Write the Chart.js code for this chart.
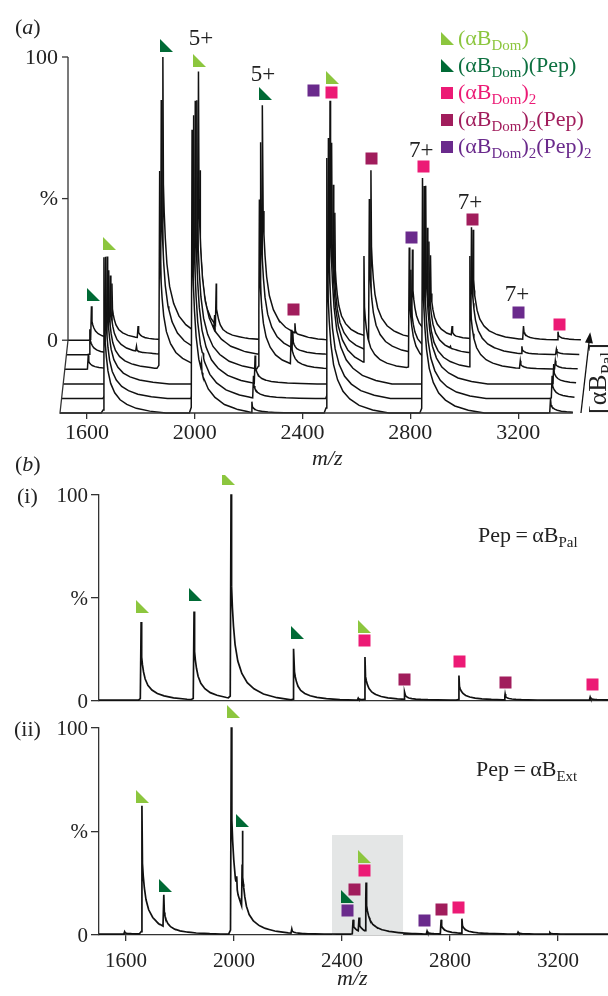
<!DOCTYPE html>
<html>
<head>
<meta charset="utf-8">
<script src="https://cdn.jsdelivr.net/npm/chart.js@4.4.1/dist/chart.umd.min.js"></script>
<style>
html, body { margin: 0; padding: 0; background: #fff; }
body { width: 608px; height: 996px; position: relative; overflow: hidden; font-family: "Liberation Serif", "DejaVu Serif", serif; color: #222; }
canvas { position: absolute; left: 0; }
.t { position: absolute; white-space: nowrap; line-height: 1; font-size: 22px; }
.t sub { font-size: 0.68em; vertical-align: -0.36em; line-height: 0; }
.mk { position: absolute; width: 12px; height: 12px; }
.tri { width: 13px; height: 13px; clip-path: polygon(0 0, 0 100%, 100% 100%); }
</style>
</head>
<body>
<canvas id="chartA" width="608" height="450" style="top:0"></canvas>
<canvas id="chartB1" width="608" height="235" style="top:475px"></canvas>
<canvas id="chartB2" width="608" height="270" style="top:705px"></canvas>

<div class="t" style="left:15px;top:16px">(<i>a</i>)</div>
<div class="t" style="left:15px;top:453px">(<i>b</i>)</div>
<div class="t" style="left:17px;top:485px">(i)</div>
<div class="t" style="left:14px;top:718px">(ii)</div>
<div class="t" style="left:312px;top:447px"><i>m/z</i></div>
<div class="t" style="left:337px;top:967px"><i>m/z</i></div>
<div class="t" style="left:478px;top:524px">Pep&#8201;=&#8201;αB<sub>Pal</sub></div>
<div class="t" style="left:476px;top:758px">Pep&#8201;=&#8201;αB<sub>Ext</sub></div>
<div class="t" style="left:585px;top:414px;font-size:26px;transform:rotate(-90deg);transform-origin:0 0">[αB<sub>Pal</sub>]</div>

<!-- legend -->
<div class="mk tri" style="left:441px;top:32px;background:#8cc63e"></div>
<div class="t" style="left:458px;top:27px;color:#8cc63e">(αB<sub>Dom</sub>)</div>
<div class="mk tri" style="left:441px;top:59px;background:#006a35"></div>
<div class="t" style="left:458px;top:54px;color:#0d7040">(αB<sub>Dom</sub>)(Pep)</div>
<div class="mk" style="left:441px;top:87px;background:#ec1a75"></div>
<div class="t" style="left:458px;top:81px;color:#ec1a75">(αB<sub>Dom</sub>)<sub>2</sub></div>
<div class="mk" style="left:441px;top:114px;background:#a11d5c"></div>
<div class="t" style="left:458px;top:108px;color:#a11d5c">(αB<sub>Dom</sub>)<sub>2</sub>(Pep)</div>
<div class="mk" style="left:441px;top:141px;background:#6a2a8c"></div>
<div class="t" style="left:458px;top:135px;color:#6a2a8c">(αB<sub>Dom</sub>)<sub>2</sub>(Pep)<sub>2</sub></div>

<script>
// ---- data: [m/z, % height] for each peak ----
// panel (a), front trace (no peptide) to back trace (most peptide)
const traceA0 = [[1663, 55], [1990, 100], [2025, 18], [2212, 4], [2490, 90], [2845, 83], [3320, 5]];
const traceA1 = [[1663, 50], [1990, 100], [2025, 16], [2212, 8], [2490, 92], [2845, 75], [3320, 8]];
const traceA2 = [[1663, 45], [1990, 100], [2025, 15], [2212, 10], [2490, 100], [2845, 70], [3320, 7]];
const traceA3 = [[1587, 5], [1663, 35], [1852, 70], [1990, 95], [2222, 60], [2340, 14], [2490, 80], [2610, 40], [2778, 43], [2845, 50], [3003, 40], [3190, 3], [3320, 3]];
const traceA4 = [[1587, 9], [1663, 28], [1760, 3], [1852, 90], [1990, 100], [2050, 14], [2222, 75], [2340, 8], [2490, 60], [2624, 55], [2778, 30], [2845, 40], [2925, 3], [3003, 45], [3190, 3], [3318, 2]];
const traceA5 = [[1587, 12], [1663, 20], [1760, 5], [1852, 100], [1990, 60], [2050, 20], [2222, 83], [2342, 6], [2490, 45], [2624, 60], [2778, 32], [2845, 30], [2925, 5], [3003, 39], [3190, 5], [3318, 3]];
// panel (b)
const traceB1 = [[1656, 38], [1852, 43], [1989, 100], [2222, 25], [2460, 1], [2485, 21], [2633, 4], [2833, 12], [3004, 3], [3319, 1.5]];
const traceB2 = [[1595, 1.2], [1659, 62], [1720, 2], [1740, 19], [1990, 100], [2010, 28], [2031, 50], [2214, 2.5], [2441, 7], [2463, 8], [2489, 25], [2715, 1.5], [2767, 7], [2844, 7.5], [3052, 1], [3170, 0.7]];
const peakShape = [[-10, 0], [-3, 0.02], [0, 1], [2, 0.55], [5, 0.45], [9, 0.36], [15, 0.27], [25, 0.19], [40, 0.13], [60, 0.085], [85, 0.055], [120, 0.03], [170, 0.012], [230, 0]];

const xTicks = [1600, 2000, 2400, 2800, 3200];
const yTicks = [[0, '0'], [50, '%'], [100, '100']];

// markers [m/z, y] ; in (a) y is on the stacked scale
const lgA = [[2019, 124.6], [2511, 118.5], [1682, 59.7]];
const dgA = [[1895, 129.6], [2261, 112.8], [1626, 41.8]];
const pinkA = [[2507, 113.3], [2847, 87.2], [3352, 31.4]];
const maroonA = [[2654, 89.7], [3032, 68.2], [2368, 36.7]];
const purpleA = [[2439, 113.7], [2804, 62.0], [3203, 35.5]];
const chargeA = [['5+', 2023, 132.1], ['5+', 2253, 119.4], ['7+', 2840, 92.5], ['7+', 3021, 74.2], ['7+', 3196, 41.7]];

const lgB1 = [[1661, 45.9], [1980, 108], [2485, 36.2]];
const dgB1 = [[1856, 51.5], [2235, 33.3]];
const pinkB1 = [[2483, 29.4], [2835, 19.2], [3326, 8.0]];
const maroonB1 = [[2631, 10.4], [3007, 9.2]];

const lgB2 = [[1661, 67.1], [1998, 108], [2485, 37.9]];
const dgB2 = [[1748, 23.7], [2033, 55.3], [2420, 18.6]];
const pinkB2 = [[2483, 31.2], [2833, 13.5]];
const maroonB2 = [[2448, 22.0], [2767, 12.3]];
const purpleB2 = [[2419, 11.6], [2707, 6.8]];
const shadeB2 = [2363, 2626, 48.3];

// waterfall layout of (a)
const shiftA = 5.94;   // m/z shift per trace
const stepA = 5.14;    // vertical step per trace
const arrowA = [[3433, 0], [3466, 27.5]];

const colors = { lg: '#8cc63e', dg: '#006a35', pink: '#ec1a75', maroon: '#a11d5c', purple: '#6a2a8c' };

Chart.defaults.font.family = "'Liberation Serif', 'DejaVu Serif', serif";
Chart.defaults.color = '#222';

function shapeAt(d) {
    if (d <= peakShape[0][0] || d >= peakShape[peakShape.length - 1][0]) return 0;
    for (let i = 1; i < peakShape.length; i++) {
        if (d <= peakShape[i][0]) {
            const a = peakShape[i - 1], b = peakShape[i];
            return a[1] + (b[1] - a[1]) * (d - a[0]) / (b[0] - a[0]);
        }
    }
    return 0;
}

function buildTrace(peaks, from, to, dx, dy) {
    let xs = [from, to];
    peaks.forEach(p => peakShape.forEach(s => xs.push(p[0] + s[0])));
    xs = xs.filter(v => v >= from && v <= to).sort((a, b) => a - b);
    return xs.map(v => ({
        x: v + dx,
        y: dy + Math.max(0, ...peaks.map(p => shapeAt(v - p[0]) * p[1]))
    }));
}

function markerImg(color, tri) {
    const c = document.createElement('canvas');
    c.width = 13; c.height = 13;
    const g = c.getContext('2d');
    g.fillStyle = color;
    if (tri) {
        g.beginPath(); g.moveTo(0, 0); g.lineTo(0, 13); g.lineTo(13, 13); g.closePath(); g.fill();
    } else {
        g.fillRect(0.5, 0.5, 12, 12);
    }
    return c;
}
const imgs = {
    lg: markerImg(colors.lg, true), dg: markerImg(colors.dg, true),
    pink: markerImg(colors.pink, false), maroon: markerImg(colors.maroon, false), purple: markerImg(colors.purple, false)
};

// species markers, placed through the chart scales
const markPlugin = {
    id: 'marks',
    afterDatasetsDraw(chart, args, opts) {
        const { ctx, scales: { x, y } } = chart;
        (opts.sets || []).forEach(([list, key]) => {
            const img = imgs[key];
            list.forEach(([mz, v]) => {
                ctx.drawImage(img, Math.round(x.getPixelForValue(mz) - img.width / 2), Math.round(y.getPixelForValue(v) - img.height / 2));
            });
        });
    }
};

// ---------- panel (a) ----------
const tracesA = [traceA0, traceA1, traceA2, traceA3, traceA4, traceA5];
const dsA = tracesA.map((peaks, k) => ({
    data: buildTrace(peaks, 1500, 3403, k * shiftA, k * stepA),
    borderColor: '#111', borderWidth: 1.5, pointRadius: 0,
    fill: { value: k * stepA }, backgroundColor: '#fff',
    order: k, clip: false
}));

const axisA = {
    id: 'axisA',
    afterDatasetsDraw(chart) {
        const { ctx, scales: { x, y } } = chart;
        const back = 5 * stepA;
        const x0 = x.getPixelForValue(1500 + 5 * shiftA);
        ctx.save();
        ctx.strokeStyle = '#333';
        ctx.lineWidth = 1.3;
        ctx.beginPath();
        ctx.moveTo(x0, y.getPixelForValue(back + 100));
        ctx.lineTo(x0, y.getPixelForValue(back));
        ctx.lineTo(x.getPixelForValue(1500), y.getPixelForValue(0));
        ctx.lineTo(x.getPixelForValue(3403), y.getPixelForValue(0));
        ctx.stroke();
        ctx.font = "22px 'Liberation Serif'";
        ctx.fillStyle = '#222';
        ctx.textAlign = 'right';
        ctx.textBaseline = 'middle';
        yTicks.forEach(([v, label]) => {
            const py = y.getPixelForValue(back + v);
            ctx.beginPath(); ctx.moveTo(x0 - 6, py); ctx.lineTo(x0, py); ctx.stroke();
            ctx.fillText(label, x0 - 10, py + 1);
        });
        // arrow along the stack
        const ax0 = x.getPixelForValue(arrowA[0][0]), ay0 = y.getPixelForValue(arrowA[0][1]);
        const ax1 = x.getPixelForValue(arrowA[1][0]), ay1 = y.getPixelForValue(arrowA[1][1]);
        const ang = Math.atan2(ay1 - ay0, ax1 - ax0);
        ctx.strokeStyle = '#111';
        ctx.beginPath(); ctx.moveTo(ax0, ay0); ctx.lineTo(ax1, ay1); ctx.stroke();
        ctx.fillStyle = '#111';
        ctx.beginPath();
        ctx.moveTo(ax1 + Math.cos(ang) * 3, ay1 + Math.sin(ang) * 3);
        ctx.lineTo(ax1 - Math.cos(ang) * 8 - Math.sin(ang) * 4, ay1 - Math.sin(ang) * 8 + Math.cos(ang) * 4);
        ctx.lineTo(ax1 - Math.cos(ang) * 8 + Math.sin(ang) * 4, ay1 - Math.sin(ang) * 8 - Math.cos(ang) * 4);
        ctx.closePath(); ctx.fill();
        // charge state labels
        ctx.font = "23px 'Liberation Serif'";
        ctx.fillStyle = '#222';
        ctx.textAlign = 'center';
        chargeA.forEach(([t, mz, v]) => ctx.fillText(t, x.getPixelForValue(mz), y.getPixelForValue(v)));
        ctx.restore();
    }
};

new Chart(document.getElementById('chartA'), {
    type: 'line',
    data: { datasets: dsA },
    options: {
        responsive: false, animation: false, events: [],
        layout: { padding: { left: 60, right: 24.6, top: 57, bottom: 0 } },
        elements: { line: { tension: 0 } },
        plugins: {
            legend: { display: false }, tooltip: { enabled: false },
            filler: { drawTime: 'beforeDatasetDraw' },
            marks: { sets: [[lgA, 'lg'], [dgA, 'dg'], [pinkA, 'pink'], [maroonA, 'maroon'], [purpleA, 'purple']] }
        },
        scales: {
            x: {
                type: 'linear', min: 1500, max: 3442,
                afterBuildTicks: s => { s.ticks = xTicks.map(v => ({ value: v })); },
                afterFit: s => { s.height = 37; },
                border: { display: false },
                grid: { drawOnChartArea: false, drawTicks: true, tickLength: 6, color: '#333', lineWidth: 1.3 },
                ticks: { font: { size: 22 }, padding: 1, maxRotation: 0, color: '#222', callback: v => String(v) }
            },
            y: { display: false, min: 0, max: 125.7 }
        }
    },
    plugins: [axisA, markPlugin]
});

// ---------- panel (b) ----------
const panelBDecor = {
    id: 'decor',
    beforeDatasetsDraw(chart, args, opts) {
        if (!opts.rect) return;
        const { ctx, scales: { x, y } } = chart;
        const [m0, m1, top] = opts.rect;
        ctx.save();
        ctx.fillStyle = '#e4e6e6';
        ctx.fillRect(x.getPixelForValue(m0), y.getPixelForValue(top), x.getPixelForValue(m1) - x.getPixelForValue(m0), y.getPixelForValue(0) - y.getPixelForValue(top));
        ctx.restore();
    },
    afterDraw(chart) {
        const { ctx, scales: { y }, chartArea } = chart;
        ctx.save();
        ctx.font = "21px 'Liberation Serif'";
        ctx.fillStyle = '#222';
        ctx.textAlign = 'right';
        ctx.textBaseline = 'middle';
        yTicks.forEach(([v, label]) => ctx.fillText(label, chartArea.left - 11, y.getPixelForValue(v) + 1));
        ctx.restore();
    }
};

function panelB(id, peaks, sets, padTop, xHeight, showX, rect) {
    return new Chart(document.getElementById(id), {
        type: 'line',
        data: {
            datasets: [{
                data: buildTrace(peaks, 1500, 3385, 0, 0.4),
                borderColor: '#111', borderWidth: 1.7, pointRadius: 0, fill: false, clip: false
            }]
        },
        options: {
            responsive: false, animation: false, events: [],
            layout: { padding: { left: 0, right: 0, top: padTop, bottom: 0 } },
            elements: { line: { tension: 0 } },
            plugins: { legend: { display: false }, tooltip: { enabled: false }, decor: { rect }, marks: { sets } },
            scales: {
                x: {
                    type: 'linear', min: 1500, max: 3385,
                    afterBuildTicks: s => { s.ticks = xTicks.map(v => ({ value: v })); },
                    afterFit: s => { s.height = xHeight; },
                    border: { display: true, color: '#333', width: 1.3 },
                    grid: { drawOnChartArea: false, drawTicks: showX, tickLength: 6, color: '#333', lineWidth: 1.3 },
                    ticks: { display: showX, font: { size: 21 }, padding: 8, maxRotation: 0, color: '#222', callback: v => String(v) }
                },
                y: {
                    min: 0, max: 100,
                    afterBuildTicks: s => { s.ticks = [0, 50, 100].map(v => ({ value: v })); },
                    afterFit: s => { s.width = 99; },
                    border: { display: true, color: '#333', width: 1.3 },
                    grid: { drawOnChartArea: false, drawTicks: true, tickLength: 8, color: '#333', lineWidth: 1.3 },
                    ticks: { display: false }
                }
            }
        },
        plugins: [panelBDecor, markPlugin]
    });
}

panelB('chartB1', traceB1, [[lgB1, 'lg'], [dgB1, 'dg'], [pinkB1, 'pink'], [maroonB1, 'maroon']], 20, 9, false, null);
panelB('chartB2', traceB2, [[lgB2, 'lg'], [dgB2, 'dg'], [pinkB2, 'pink'], [maroonB2, 'maroon'], [purpleB2, 'purple']], 23, 40, true, shadeB2);
</script>
</body>
</html>
